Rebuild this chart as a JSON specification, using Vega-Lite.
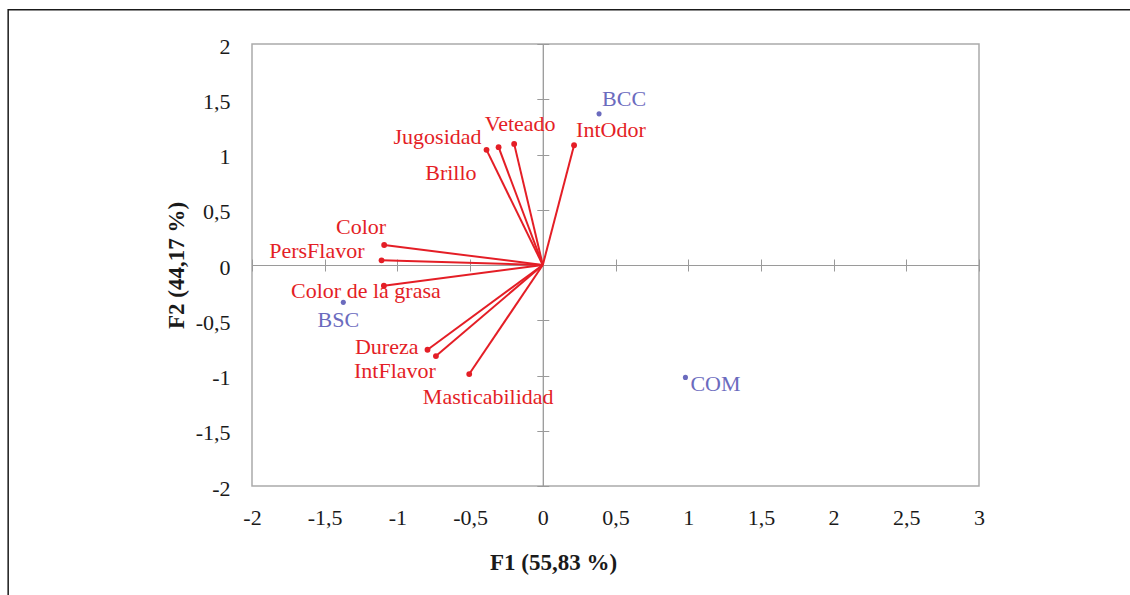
{
  "$schema": "https://vega.github.io/schema/vega-lite/v6.json",
  "width": 727,
  "height": 442,
  "autosize": {"type": "none"},
  "padding": {"left": 252, "top": 44, "right": 151, "bottom": 109},
  "background": "white",
  "config": {
    "font": "Liberation Serif",
    "view": {"stroke": "#aaaaaa", "strokeWidth": 1.5}
  },
  "datasets": {
    "vars": [
      {"name": "Jugosidad", "x": -0.387, "y": 1.042},
      {"name": "Brillo", "x": -0.304, "y": 1.066},
      {"name": "Veteado", "x": -0.197, "y": 1.096},
      {"name": "IntOdor", "x": 0.215, "y": 1.084},
      {"name": "Color", "x": -1.091, "y": 0.181},
      {"name": "PersFlavor", "x": -1.109, "y": 0.042},
      {"name": "Color de la grasa", "x": -1.093, "y": -0.187},
      {"name": "Dureza", "x": -0.793, "y": -0.767},
      {"name": "IntFlavor", "x": -0.735, "y": -0.824},
      {"name": "Masticabilidad", "x": -0.506, "y": -0.987}
    ],
    "obs": [
      {"name": "BCC", "x": 0.387, "y": 1.368},
      {"name": "BSC", "x": -1.372, "y": -0.338},
      {"name": "COM", "x": 0.981, "y": -1.017}
    ],
    "frame": [
      {"x1": -3.677, "x2": 4.5, "y1": 2.31, "y2": -3.5}
    ]
  },
  "resolve": {"axis": {"x": "independent", "y": "independent"}},
  "layer": [
    {
      "data": {"name": "frame"},
      "mark": {"type": "rect", "filled": false, "stroke": "#1a1a1a", "strokeWidth": 1.5, "clip": false},
      "encoding": {
        "x": {"field": "x1", "type": "quantitative", "axis": null, "scale": {"domain": [-2, 3], "nice": false, "zero": false}},
        "x2": {"field": "x2"},
        "y": {"field": "y1", "type": "quantitative", "axis": null, "scale": {"domain": [-2, 2], "nice": false, "zero": false}},
        "y2": {"field": "y2"}
      }
    },
    {
      "data": {"name": "vars"},
      "mark": {"type": "rule", "color": "#e41e26", "strokeWidth": 2},
      "encoding": {
        "x": {"field": "x", "type": "quantitative", "axis": null, "scale": {"domain": [-2, 3], "nice": false, "zero": false}},
        "y": {"field": "y", "type": "quantitative", "axis": null, "scale": {"domain": [-2, 2], "nice": false, "zero": false}},
        "x2": {"datum": 0},
        "y2": {"datum": 0}
      }
    },
    {
      "data": {"name": "vars"},
      "mark": {"type": "circle", "color": "#e41e26", "size": 34, "opacity": 1},
      "encoding": {
        "x": {"field": "x", "type": "quantitative", "scale": {"domain": [-2, 3], "nice": false, "zero": false},
          "axis": {"orient": "top", "offset": -221, "values": [-2, -1.5, -1, -0.5, 0, 0.5, 1, 1.5, 2, 2.5, 3], "labels": false, "title": null, "grid": false, "domain": true, "domainColor": "#9a9a9a", "domainWidth": 1, "ticks": true, "tickColor": "#9a9a9a", "tickSize": 6, "tickWidth": 1}},
        "y": {"field": "y", "type": "quantitative", "scale": {"domain": [-2, 2], "nice": false, "zero": false},
          "axis": {"orient": "right", "offset": -436.2, "values": [-2, -1.5, -1, -0.5, 0, 0.5, 1, 1.5, 2], "labels": false, "title": null, "grid": false, "domain": true, "domainColor": "#9a9a9a", "domainWidth": 1, "ticks": true, "tickColor": "#9a9a9a", "tickSize": 6, "tickWidth": 1}}
      }
    },
    {
      "data": {"name": "obs"},
      "mark": {"type": "circle", "color": "#6b6bbe", "size": 26, "opacity": 1},
      "encoding": {
        "x": {"field": "x", "type": "quantitative", "scale": {"domain": [-2, 3], "nice": false, "zero": false},
          "axis": {"orient": "bottom", "offset": -221, "values": [-2, -1.5, -1, -0.5, 0, 0.5, 1, 1.5, 2, 2.5, 3], "labels": false, "title": null, "grid": false, "domain": true, "domainColor": "#9a9a9a", "domainWidth": 1, "ticks": true, "tickColor": "#9a9a9a", "tickSize": 6, "tickWidth": 1}},
        "y": {"field": "y", "type": "quantitative", "scale": {"domain": [-2, 2], "nice": false, "zero": false},
          "axis": {"orient": "left", "offset": -290.8, "values": [-2, -1.5, -1, -0.5, 0, 0.5, 1, 1.5, 2], "labels": false, "title": null, "grid": false, "domain": true, "domainColor": "#9a9a9a", "domainWidth": 1, "ticks": true, "tickColor": "#9a9a9a", "tickSize": 6, "tickWidth": 1}}
      }
    },
    {
      "data": {"name": "vars"},
      "encoding": {
        "x": {"field": "x", "type": "quantitative", "scale": {"domain": [-2, 3], "nice": false, "zero": false},
          "axis": {"orient": "bottom", "values": [-2, -1.5, -1, -0.5, 0, 0.5, 1, 1.5, 2, 2.5, 3], "labelExpr": "replace(toString(datum.value), '.', ',')", "labelFontSize": 22, "labelColor": "#1a1a1a", "labelPadding": 21, "labelFlush": false, "labelOverlap": false, "domain": false, "ticks": false, "tickSize": 0, "grid": false, "title": "F1 (55,83 %)", "titleFontSize": 23, "titleFontWeight": "bold", "titleColor": "#1a1a1a", "titleX": 301, "titleY": 83, "titleAlign": "center", "titleBaseline": "alphabetic"}},
        "y": {"field": "y", "type": "quantitative", "scale": {"domain": [-2, 2], "nice": false, "zero": false},
          "axis": {"orient": "left", "values": [-2, -1.5, -1, -0.5, 0, 0.5, 1, 1.5, 2], "labelExpr": "replace(toString(datum.value), '.', ',')", "labelFontSize": 22, "labelColor": "#1a1a1a", "labelPadding": 22, "labelFlush": false, "labelOverlap": false, "labelOffset": 2, "domain": false, "ticks": false, "tickSize": 0, "grid": false, "title": "F2 (44,17 %)", "titleFontSize": 23, "titleFontWeight": "bold", "titleColor": "#1a1a1a", "titleX": -76, "titleBaseline": "middle"}},
        "text": {"field": "name"}
      },
      "layer": [
        {"transform": [{"filter": "datum.name === 'Jugosidad'"}], "mark": {"type": "text", "color": "#e41e26", "fontSize": 22, "align": "right", "baseline": "alphabetic", "dx": -5, "dy": -6}},
        {"transform": [{"filter": "datum.name === 'Brillo'"}], "mark": {"type": "text", "color": "#e41e26", "fontSize": 22, "align": "right", "baseline": "alphabetic", "dx": -22, "dy": 33}},
        {"transform": [{"filter": "datum.name === 'Veteado'"}], "mark": {"type": "text", "color": "#e41e26", "fontSize": 22, "align": "center", "baseline": "alphabetic", "dx": 6, "dy": -13}},
        {"transform": [{"filter": "datum.name === 'IntOdor'"}], "mark": {"type": "text", "color": "#e41e26", "fontSize": 22, "align": "left", "baseline": "alphabetic", "dx": 2, "dy": -8}},
        {"transform": [{"filter": "datum.name === 'Color'"}], "mark": {"type": "text", "color": "#e41e26", "fontSize": 22, "align": "right", "baseline": "alphabetic", "dx": 2, "dy": -11}},
        {"transform": [{"filter": "datum.name === 'PersFlavor'"}], "mark": {"type": "text", "color": "#e41e26", "fontSize": 22, "align": "right", "baseline": "alphabetic", "dx": -17, "dy": -2}},
        {"transform": [{"filter": "datum.name === 'Color de la grasa'"}], "mark": {"type": "text", "color": "#e41e26", "fontSize": 22, "align": "center", "baseline": "alphabetic", "dx": -18, "dy": 12.5}},
        {"transform": [{"filter": "datum.name === 'Dureza'"}], "mark": {"type": "text", "color": "#e41e26", "fontSize": 22, "align": "right", "baseline": "alphabetic", "dx": -9, "dy": 4}},
        {"transform": [{"filter": "datum.name === 'IntFlavor'"}], "mark": {"type": "text", "color": "#e41e26", "fontSize": 22, "align": "right", "baseline": "alphabetic", "dx": 0, "dy": 21.5}},
        {"transform": [{"filter": "datum.name === 'Masticabilidad'"}], "mark": {"type": "text", "color": "#e41e26", "fontSize": 22, "align": "center", "baseline": "alphabetic", "dx": 19, "dy": 30}}
      ]
    },
    {
      "data": {"name": "obs"},
      "encoding": {
        "x": {"field": "x", "type": "quantitative", "axis": null},
        "y": {"field": "y", "type": "quantitative", "axis": null},
        "text": {"field": "name"}
      },
      "layer": [
        {"transform": [{"filter": "datum.name === 'BCC'"}], "mark": {"type": "text", "color": "#6b6bbe", "fontSize": 22, "align": "left", "baseline": "alphabetic", "dx": 3, "dy": -8}},
        {"transform": [{"filter": "datum.name === 'BSC'"}], "mark": {"type": "text", "color": "#6b6bbe", "fontSize": 22, "align": "center", "baseline": "alphabetic", "dx": -5, "dy": 25}},
        {"transform": [{"filter": "datum.name === 'COM'"}], "mark": {"type": "text", "color": "#6b6bbe", "fontSize": 22, "align": "left", "baseline": "alphabetic", "dx": 5, "dy": 14}}
      ]
    }
  ]
}
